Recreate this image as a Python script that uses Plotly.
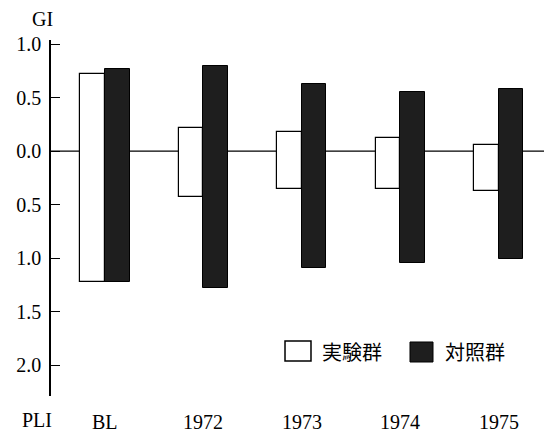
import plotly.graph_objects as go

categories = ["BL", "1972", "1973", "1974", "1975"]
exp_gi = [0.72, 0.22, 0.18, 0.12, 0.06]
exp_pli = [1.22, 0.43, 0.35, 0.35, 0.37]
ctl_gi = [0.77, 0.80, 0.63, 0.55, 0.58]
ctl_pli = [1.22, 1.28, 1.09, 1.05, 1.01]
ytick_vals = [1.0, 0.5, 0.0, -0.5, -1.0, -1.5, -2.0]
ytick_text = ["1.0", "0.5", "0.0", "0.5", "1.0", "1.5", "2.0"]
legend_names = ["実験群", "対照群"]

serif = "Liberation Serif"
cjk = "Noto Sans CJK JP"

idx = list(range(len(categories)))
w = 0.25
fig = go.Figure()
fig.add_trace(go.Bar(
    x=[i - w / 2 for i in idx], y=[g + p for g, p in zip(exp_gi, exp_pli)],
    base=[-p for p in exp_pli], width=w, name=legend_names[0], showlegend=False,
    marker=dict(color="white", line=dict(color="black", width=1.2)),
))
fig.add_trace(go.Bar(
    x=[i + w / 2 for i in idx], y=[g + p for g, p in zip(ctl_gi, ctl_pli)],
    base=[-p for p in ctl_pli], width=w, name=legend_names[1], showlegend=False,
    marker=dict(color="#1e1e1e", line=dict(color="black", width=1)),
))

shapes = [
    dict(type="line", xref="paper", yref="y", x0=0, x1=1, y0=0, y1=0,
         line=dict(color="black", width=1.2), layer="below"),
    # manual legend swatches
    dict(type="rect", xref="paper", yref="paper", x0=0.4737, x1=0.5263, y0=0.0983, y1=0.1545,
         fillcolor="white", line=dict(color="black", width=1.5)),
    dict(type="rect", xref="paper", yref="paper", x0=0.7267, x1=0.7733, y0=0.0955, y1=0.1517,
         fillcolor="#1e1e1e", line=dict(color="black", width=1)),
]

annotations = []
for i, c in enumerate(categories):
    annotations.append(dict(x=i, y=-0.073, xref="x", yref="paper", text=c, showarrow=False,
                            xanchor="center", yanchor="middle",
                            font=dict(family=serif, size=20, color="black")))
annotations += [
    dict(x=-0.0162, y=1.059, xref="paper", yref="paper", text="GI", showarrow=False,
         xanchor="center", yanchor="middle", font=dict(family=serif, size=20, color="black")),
    dict(x=-0.0283, y=-0.0674, xref="paper", yref="paper", text="PLI", showarrow=False,
         xanchor="center", yanchor="middle", font=dict(family=serif, size=20, color="black")),
    dict(x=0.5445, y=0.1264, xref="paper", yref="paper", text=legend_names[0], showarrow=False,
         xanchor="left", yanchor="middle", font=dict(family=cjk, size=20, color="black")),
    dict(x=0.7935, y=0.1264, xref="paper", yref="paper", text=legend_names[1], showarrow=False,
         xanchor="left", yanchor="middle", font=dict(family=cjk, size=20, color="black")),
]

fig.update_layout(
    width=544, height=429,
    margin=dict(l=43, r=7, t=32, b=41),
    paper_bgcolor="white", plot_bgcolor="white",
    barmode="overlay", bargap=0,
    font=dict(family=serif, size=20, color="black"),
    xaxis=dict(range=[-0.548, 4.47], showticklabels=False, showgrid=False,
               zeroline=False, showline=False, ticks=""),
    yaxis=dict(range=[-2.29, 1.04], tickvals=ytick_vals, ticktext=ytick_text,
               ticks="inside", ticklen=9, tickwidth=1.2, tickcolor="black",
               showline=True, linecolor="black", linewidth=1.5,
               showgrid=False, zeroline=False, ticklabelstandoff=4,
               tickfont=dict(family=serif, size=20, color="black")),
    showlegend=False,
    shapes=shapes,
    annotations=annotations,
)

fig.write_html("out.html")
